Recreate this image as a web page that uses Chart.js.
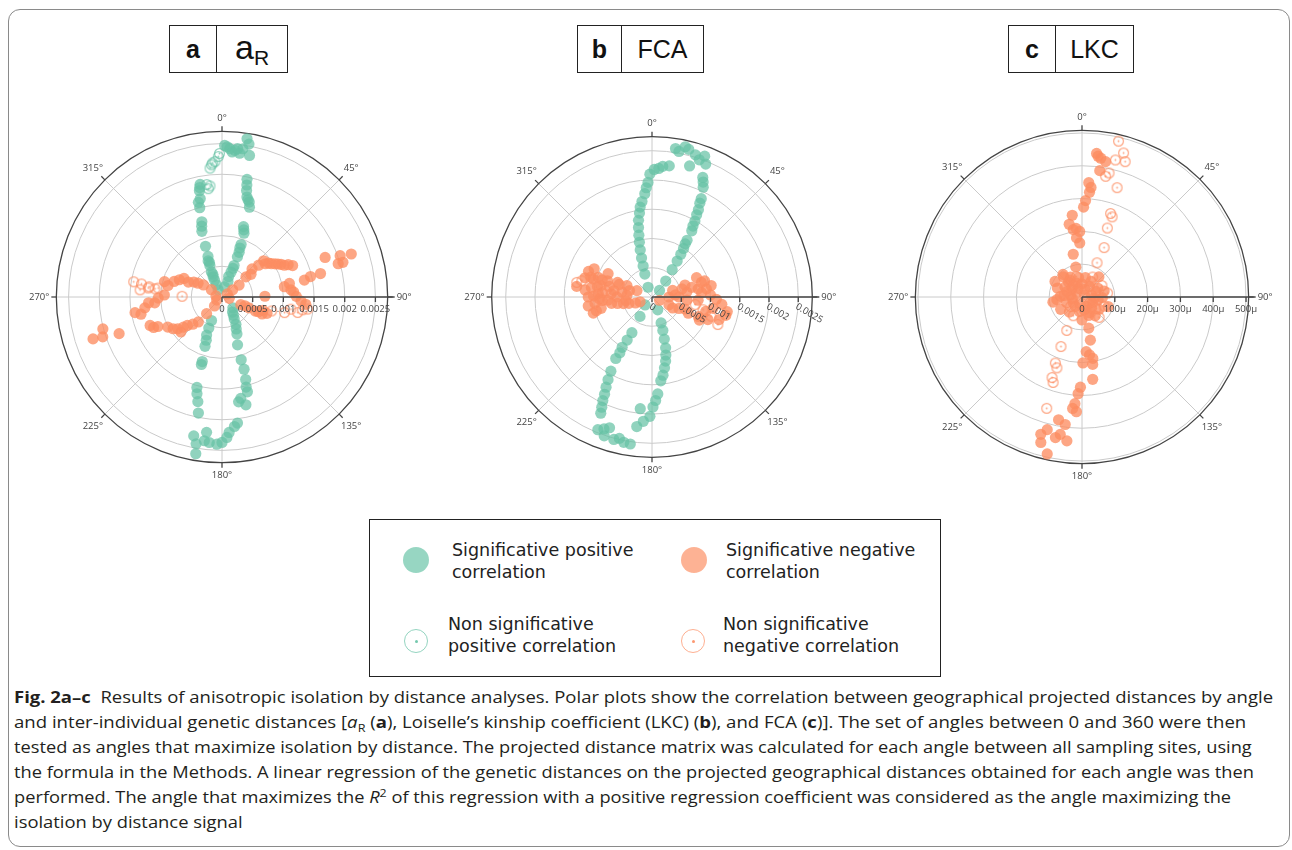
<!DOCTYPE html>
<html>
<head>
<meta charset="utf-8">
<script src="https://cdn.jsdelivr.net/npm/chart.js@4.4.1/dist/chart.umd.min.js"></script>
<style>
body { margin:0; width:1292px; height:850px; background:#fff; position:relative; overflow:hidden; font-family:"DejaVu Sans",sans-serif; }
#frame { position:absolute; left:8px; top:9px; width:1282px; height:838px; border:1px solid #8a8a8a; border-radius:12px; box-sizing:border-box; }
.tbox { position:absolute; top:25px; height:48px; border:1px solid #222; display:flex; box-sizing:border-box; font-family:"Liberation Sans",Arial,sans-serif; color:#111; }
.tbox .k { border-right:1px solid #222; font-weight:bold; font-size:25px; display:flex; align-items:center; justify-content:center; }
.tbox .v { flex:1; font-size:25px; display:flex; align-items:center; justify-content:center; }
canvas.polar { position:absolute; top:77px; }
#legend { position:absolute; left:369px; top:519px; width:572px; height:158px; border:1px solid #222; box-sizing:border-box; }
.mk { position:absolute; border-radius:50%; box-sizing:border-box; }
.lt { position:absolute; font-size:17.5px; line-height:22px; color:#222; white-space:nowrap; }
.cap { position:absolute; left:14px; white-space:nowrap; font-family:"Open Sans",sans-serif; font-size:16.5px; line-height:25px; color:#231f20; transform-origin:0 50%; }
.cap sub, .cap sup { font-size:0.68em; line-height:0; }
</style>
</head>
<body>
<div id="frame"></div>

<div class="tbox" style="left:169px;width:119px"><div class="k" style="width:46px">a</div><div class="v"><span style="font-size:34px;position:relative;top:-2px">a</span><span style="font-size:21px;position:relative;top:9px">R</span></div></div>
<div class="tbox" style="left:577px;width:127px"><div class="k" style="width:43px">b</div><div class="v">FCA</div></div>
<div class="tbox" style="left:1008px;width:126px"><div class="k" style="width:46px">c</div><div class="v">LKC</div></div>

<canvas id="chartA" class="polar" width="440" height="440" style="left:2px"></canvas>
<canvas id="chartB" class="polar" width="440" height="440" style="left:432px"></canvas>
<canvas id="chartC" class="polar" width="440" height="440" style="left:862px"></canvas>

<div id="legend"></div>
<div class="mk" style="left:403px;top:547px;width:26px;height:26px;background:rgba(102,194,165,0.68)"></div>
<div class="lt" style="left:452px;top:539px">Significative positive<br>correlation</div>
<div class="mk" style="left:681px;top:547px;width:26px;height:26px;background:rgba(252,141,98,0.68)"></div>
<div class="lt" style="left:726px;top:539px">Significative negative<br>correlation</div>
<div class="mk" style="left:404px;top:629px;width:24px;height:24px;border:1.5px solid rgba(102,194,165,0.7)"></div>
<div class="mk" style="left:414.5px;top:639.5px;width:3px;height:3px;background:rgba(102,194,165,0.9)"></div>
<div class="lt" style="left:448px;top:613px">Non significative<br>positive correlation</div>
<div class="mk" style="left:681px;top:629px;width:24px;height:24px;border:1.5px solid rgba(252,141,98,0.7)"></div>
<div class="mk" style="left:691.5px;top:639.5px;width:3px;height:3px;background:rgba(252,141,98,0.9)"></div>
<div class="lt" style="left:723px;top:613px">Non significative<br>negative correlation</div>

<div class="cap" data-w="1259" style="top:684px"><b>Fig. 2a–c</b>&nbsp; Results of anisotropic isolation by distance analyses. Polar plots show the correlation between geographical projected distances by angle</div>
<div class="cap" data-w="1232" style="top:709px">and inter-individual genetic distances [<i>a</i><sub>R</sub> (<b>a</b>), Loiselle’s kinship coefficient (LKC) (<b>b</b>), and FCA (<b>c</b>)]. The set of angles between 0 and 360 were then</div>
<div class="cap" data-w="1238" style="top:734px">tested as angles that maximize isolation by distance. The projected distance matrix was calculated for each angle between all sampling sites, using</div>
<div class="cap" data-w="1240" style="top:759px">the formula in the Methods. A linear regression of the genetic distances on the projected geographical distances obtained for each angle was then</div>
<div class="cap" data-w="1217" style="top:784px">performed. The angle that maximizes the <i>R</i><sup>2</sup> of this regression with a positive regression coefficient was considered as the angle maximizing the</div>
<div class="cap" style="top:809px">isolation by distance signal</div>

<script>
// points are [angle in degrees, radius]
const arSigPos = [[9,0.00261],[10,0.00253],[1,0.00247],[3,0.00242],[5,0.0024],[8,0.00244],[11,0.00235],[7,0.00236],[4,0.00237],[2,0.00245],[6,0.00243],
  [12,0.00196],[12.5,0.00187],[13,0.00178],[14,0.00168],[15,0.00164],[16,0.00161],[17,0.00153],[17,0.0012],[18,0.00115],[19,0.0011],[20,0.00091],[20,0.00085],[21,0.00078],[21,0.0007],[21,0.00055],[21,0.0005],[20,0.00043],[21,0.00027],[14,0.00017],[18,0.00035],
  [349,0.00187],[348.5,0.00182],[348,0.00177],[347.5,0.00164],[346,0.00159],[346,0.0015],[345,0.00127],[344,0.0012],[343,0.00112],[342,0.00087],[340,0.0006],[339,0.00063],[339,0.00055],[337,0.00044],[336.5,0.00036],[336,0.0003],[335,0.00022],[331,0.00013],[338,0.0004],[341,0.0007],
  [135,0.00025],[145,0.0003],[151,0.00041],[156,0.00057],[158,0.00065],[162,0.00082],[163,0.00107],[163,0.00123],[164,0.0014],[165,0.00152],[165,0.0016],[169.5,0.00168],[167.5,0.0018],[171,0.00173],[173,0.00207],[174.5,0.00212],[177,0.00221],[178,0.00229],[180,0.00237],[182,0.0024],[185,0.00238],[187,0.00236],[190,0.00243],[191.5,0.00231],[189.5,0.00259],[186.5,0.00222],[148,0.00035],[153,0.0005],
  [204,0.00042],[200,0.00075],[202,0.00067],[199,0.00085],[197,0.0011],[197,0.00115],[195.5,0.00153],[194.5,0.00163],[193,0.00175],[191.5,0.00193],[203,0.00055]];
const arNonPos = [[355.5,0.00216],[357,0.00221],[358.5,0.00229],[359,0.00234],[354.7,0.00211],[352.3,0.00185],[352.8,0.00178],[353.8,0.00182],[356,0.00219]];
const arSigNeg = [[56,0.00021],[55,0.00034],[50,0.00051],[47,0.00067],[49,0.00079],[52.5,0.00089],[56,0.00097],[59.5,0.00106],[63,0.00114],[66,0.00126],[49,0.0009],[54,0.00094],[61,0.0011],[64,0.0012],[52,0.0006],[58,0.00102],
  [78.4,0.00137],[77,0.00148],[76.6,0.00165],[69,0.0018],[70.7,0.00204],[74,0.00197],[71.6,0.00222],[74,0.00205],
  [80.6,0.00103],[84,0.00113],[89.5,0.00121],[78.6,0.00112],[89,0.0007],[93,0.00129],[95,0.00137],[86,0.00117],
  [112,0.00033],[112,0.00047],[113,0.00059],[113,0.00071],[110,0.00078],[108,0.0007],[111,0.0004],[112,0.00064],
  [296,0.00069],[288,0.00082],[285,0.00097],[298,0.00052],[303,0.00036],[304.5,0.00021],[292,0.00075],[282,0.0009],[300,0.0045e-1],[294,0.0006],
  [252,0.00221],[255,0.00201],[251.5,0.00205],[250.4,0.00178],[259.8,0.00144],[262,0.00127],[265.5,0.0012],[269,0.00104],[272,0.00094],[265,0.0011],[258,0.00135],
  [248.4,0.00126],[245.3,0.00115],[241,0.00101],[234.4,0.00089],[230.6,0.00073],[223.5,0.00056],[222.7,0.00037],[220,0.00019],[229.6,0.00088],[246,0.00122],[237,0.00095],[227,0.00065],[232,0.0008],
  [240,0.0001],[60,0.0001],[100,0.00012],[280,0.0001]];
const arNonNeg = [[279.8,0.00146],[279.2,0.00133],[278,0.0012],[277,0.0011],[275,0.00134],[277,0.00121],[271,0.00065],[278,0.00105],[104,0.00105],[101.6,0.00126],[98,0.00141],[105.7,0.00084],[100,0.00114],[99,0.00133]];

const fcaSigPos = [[9,0.00257],[12.5,0.00263],[17,0.00254],[20.5,0.00257],[22,0.00245],[16,0.00233],[10.5,0.00253],[14,0.0026],[19,0.00248],
  [23,0.00222],[24,0.00215],[25,0.00207],[26.6,0.00188],[27,0.0018],[28,0.00169],[29.5,0.00149],[30,0.0014],[31,0.00132],[31.7,0.00114],[33,0.00099],[34,0.00088],[35,0.00075],[36.5,0.00058],[40.7,0.00036],[49,0.00017],[28.5,0.0016],[32,0.00107],
  [338,0.00018],[342.6,0.00041],[345,0.00069],[346,0.00083],[347,0.00096],[348,0.00108],[349,0.00121],[350,0.00133],[351.5,0.00145],[352.5,0.00155],[354,0.00164],[356,0.00177],[357,0.00187],[358,0.00196],[359,0.0021],[1,0.00218],[3,0.0022],[4.7,0.00224],[7.5,0.00226],[344,0.00055],
  [221,0.00018],[211.7,0.00039],[209.4,0.0007],[210,0.00085],[210.7,0.001],[210.5,0.00122],[209,0.00145],[208,0.0016],[207,0.00173],[205.4,0.00196],[204.5,0.00207],[203.8,0.00217],[202.2,0.00245],[200,0.0024],[198,0.00235],[199,0.00251],[195,0.00252],[193,0.00248],[191,0.00253],[188.4,0.00254],[210,0.0011],[206,0.00185],
  [156,0.00024],[160.7,0.00047],[163.7,0.00075],[165,0.0009],[166.6,0.00102],[170,0.00123],[172,0.00135],[174,0.00144],[176.6,0.00166],[178,0.00177],[179.5,0.00188],[181,0.00204],[184,0.00213],[186.7,0.00223],[186,0.00192],[162,0.0006],[168,0.00112]];
const fcaSigNeg = [[292,0.00117],[290,0.00098],[290,0.00081],[293,0.00064],[294.4,0.00047],[293,0.00028],[279,0.00105],[273.4,0.00092],[265.8,0.00076],[259.4,0.0006],[254.5,0.00041],[248,0.00022],[263.6,0.00098],[257.4,0.00089],[270,0.00109],[274.5,0.0007],[279.3,0.00052],[286,0.00119],[282.6,0.00089],[279.7,0.00066],[273.7,0.00043],[254.6,0.00104],[276,0.00115],[268,0.0009],[284,0.00075],[262,0.00045],[296,0.0011],[288,0.0011],
  [287,0.00105],[281,0.00095],[275,0.00085],[271,0.001],[266,0.00085],[261,0.0007],[257,0.0005],[250,0.0003],[289,0.0009],[291,0.0006],[286,0.0004],[298,0.00085],[270,0.0006],[278,0.0013],[262,0.0011],[256,0.00098],
  [113.5,0.00014],[115,0.00032],[113,0.0005],[114,0.00068],[112.8,0.00086],[112,0.00103],[108.6,0.00121],[101,0.00131],[72.4,0.00037],[75,0.00053],[76.3,0.0007],[73.6,0.00088],[81.5,0.00094],[79,0.00103],[66.5,0.00083],[82,0.0006],[90,0.00046],[90,0.00029],[94,0.00079],[100.5,0.00106],[73,0.00094],[85,0.00085],[95,0.0006],[105,0.00095],
  [110,0.0006],[118,0.0004],[92,0.0011],[88,0.001],[80,0.0008],[70,0.0006],[96,0.0012],[104,0.0013],[116,0.0009],[85,0.0004]];
const fcaNonNeg = [[281,0.00131],[283,0.00123],[108,0.00106],[112.7,0.00122],[104,0.0009],[278,0.0008],[100,0.00075]];

// LKC radii in micro units
const lkcSigNeg = [[5.8,440],[7.7,427],[9.9,419],[8,389],[6.5,432],
  [3.4,349],[4.7,335],[4.1,320],[2.1,294],[1,274],[353.2,251],[352.6,207],[358,200],[354.7,181],[357.6,165],[348.4,133],[348.3,93],[355,210],[350,225],
  [317.4,83],[318.2,62],[324,45],[336,29],[290,49],[264,77],[271.7,66],[35.7,39],[68.4,46],[91.8,62],[118.6,37],[155,31],[154.4,53],[125.6,64],[236.3,32],[305,21],[48.8,10],[94.5,38],[324.6,63],[300,60],[280,35],[200,20],[140,45],[80,30],[20,25],[330,70],[250,50],[170,40],
  [10,60],[40,80],[60,55],[100,50],[110,85],[145,70],[160,60],[190,45],[220,60],[240,75],[260,30],[290,80],[310,40],[340,45],[350,60],[0,40],[30,55],[75,70],[125,30],[180,70],[215,35],[275,55],[320,90],[300,95],[260,90],
  [167.7,97],[169,134],[175.6,167],[172.6,178],[179.2,201],[171,208],[172.6,253],[181,275],[182.3,295],[183.8,326],[184.8,341],[182.8,350],[190.8,381],[187.5,392],[194.7,418],[196.7,437],[195.8,461],[189,424],[186,441],[192.5,490],[190.7,436],[170,190]];
const lkcNonNeg = [[13.2,488],[16.1,457],[13.7,430],[17.7,433],[12.3,387],[11.1,375],[17.8,350],[18.9,269],[20.6,261],[20.2,224],[24.1,165],[23.7,114],[28,69],[81.3,79],[112.4,73],[139.9,81],[344.7,64],[205,63],[204.5,112],[203,164],[202,217],[199.5,229],[200.4,262],[198.7,275],[197.6,356],[60,70],[130,55],[230,45]];

const arTicks = [0, 0.0005, 0.001, 0.0015, 0.002, 0.0025];
const arTickLabels = ['0', '0.0005', '0.001', '0.0015', '0.002', '0.0025'];
const fcaTicks = [0, 0.0005, 0.001, 0.0015, 0.002, 0.0025];
const fcaTickLabels = ['0', '0.0005', '0.001', '0.0015', '0.002', '0.0025'];
const lkcTicks = [0, 100, 200, 300, 400, 500];
const lkcTickLabels = ['0', '100µ', '200µ', '300µ', '400µ', '500µ'];
const angleLabels = ['0°', '45°', '90°', '135°', '180°', '225°', '270°', '315°'];

const GREEN = 'rgba(102,194,165,0.72)';
const ORANGE = 'rgba(252,141,98,0.78)';

function toXY(points) {
    return points.map(([deg, r]) => ({
        x: r * Math.sin(deg * Math.PI / 180),
        y: r * Math.cos(deg * Math.PI / 180)
    }));
}

function OpenDotMarker(color) {
    const c = document.createElement('canvas');
    c.width = 13; c.height = 13;
    const g = c.getContext('2d');
    g.strokeStyle = color; g.lineWidth = 1.2;
    g.beginPath(); g.arc(6.5, 6.5, 4.9, 0, 2 * Math.PI); g.stroke();
    g.fillStyle = color;
    g.beginPath(); g.arc(6.5, 6.5, 0.9, 0, 2 * Math.PI); g.fill();
    return c;
}

const polarGrid = {
    id: 'polarGrid',
    beforeDatasetsDraw(chart, args, opts) {
        const { ctx, scales: { x, y } } = chart;
        const cx = x.getPixelForValue(0), cy = y.getPixelForValue(0);
        const R = x.getPixelForValue(opts.rMax) - cx;
        ctx.save();
        ctx.strokeStyle = '#cacaca';
        ctx.lineWidth = 1;
        opts.ticks.forEach(t => {
            if (t <= 0) return;
            ctx.beginPath();
            ctx.arc(cx, cy, x.getPixelForValue(t) - cx, 0, 2 * Math.PI);
            ctx.stroke();
        });
        for (let a = 0; a < 360; a += 45) {
            const rad = a * Math.PI / 180;
            ctx.beginPath();
            ctx.moveTo(cx, cy);
            ctx.lineTo(cx + R * Math.sin(rad), cy - R * Math.cos(rad));
            ctx.stroke();
        }
        ctx.strokeStyle = '#444';
        ctx.lineWidth = 1.3;
        ctx.beginPath(); ctx.arc(cx, cy, R, 0, 2 * Math.PI); ctx.stroke();
        ctx.font = '9.5px "Open Sans"';
        ctx.fillStyle = '#444';
        ctx.textBaseline = 'middle';
        angleLabels.forEach((lab, i) => {
            const rad = i * 45 * Math.PI / 180;
            const s = Math.sin(rad), c = Math.cos(rad);
            ctx.beginPath();
            ctx.moveTo(cx + R * s, cy - R * c);
            ctx.lineTo(cx + (R + 5) * s, cy - (R + 5) * c);
            ctx.stroke();
            if (i === 2) { ctx.textAlign = 'left'; ctx.fillText(lab, cx + R + 9, cy); }
            else if (i === 6) { ctx.textAlign = 'right'; ctx.fillText(lab, cx - R - 7, cy); }
            else {
                const d = (i % 2 === 0) ? R + 13 : R + 17;
                ctx.textAlign = 'center';
                ctx.fillText(lab, cx + d * s, cy - d * c);
            }
        });
        ctx.restore();
    },
    afterDatasetsDraw(chart, args, opts) {
        const { ctx, scales: { x, y } } = chart;
        const cx = x.getPixelForValue(0), cy = y.getPixelForValue(0);
        const R = x.getPixelForValue(opts.rMax) - cx;
        ctx.save();
        ctx.strokeStyle = '#444';
        ctx.lineWidth = 1.3;
        ctx.beginPath(); ctx.moveTo(cx, cy); ctx.lineTo(cx + R + 7, cy); ctx.stroke();
        ctx.font = '9.5px "Open Sans"';
        ctx.fillStyle = '#444';
        opts.ticks.forEach((t, i) => {
            const tx = x.getPixelForValue(t);
            ctx.beginPath(); ctx.moveTo(tx, cy); ctx.lineTo(tx, cy + 5); ctx.stroke();
            if (opts.rotate) {
                ctx.save();
                ctx.translate(tx - 2, cy + 9);
                ctx.rotate(opts.rotate * Math.PI / 180);
                ctx.textAlign = 'left'; ctx.textBaseline = 'middle';
                ctx.fillText(opts.labels[i], 0, 0);
                ctx.restore();
            } else {
                ctx.textAlign = 'center'; ctx.textBaseline = 'top';
                ctx.fillText(opts.labels[i], tx, cy + 8);
            }
        });
        ctx.restore();
    }
};

function LoadPolarChart(canvasId, series, ticks, labels, rMax, outerPx, rotate) {
    const half = rMax * 220 / outerPx;
    const datasets = series.map(s => ({
        data: toXY(s.points),
        backgroundColor: s.open ? 'transparent' : s.color,
        borderWidth: 0,
        pointStyle: s.open ? OpenDotMarker(s.color) : 'circle',
        pointRadius: 5.6,
        pointHoverRadius: 5.6
    }));
    new Chart(document.getElementById(canvasId), {
        type: 'scatter',
        data: { datasets: datasets },
        options: {
            responsive: false,
            animation: false,
            events: [],
            layout: { padding: 0 },
            scales: {
                x: { type: 'linear', display: false, min: -half, max: half },
                y: { type: 'linear', display: false, min: -half, max: half }
            },
            plugins: {
                legend: { display: false },
                tooltip: { enabled: false },
                polarGrid: { ticks: ticks, labels: labels, rMax: rMax, rotate: rotate }
            }
        },
        plugins: [polarGrid]
    });
}

// first series is drawn on top
LoadPolarChart('chartA', [
    { points: arSigNeg, color: ORANGE },
    { points: arNonNeg, color: ORANGE, open: true },
    { points: arSigPos, color: GREEN },
    { points: arNonPos, color: GREEN, open: true }
], arTicks, arTickLabels, 0.0027, 170, 0);

LoadPolarChart('chartB', [
    { points: fcaNonNeg, color: ORANGE, open: true },
    { points: fcaSigNeg, color: ORANGE },
    { points: fcaSigPos, color: GREEN }
], fcaTicks, fcaTickLabels, 0.00274, 164.5, 30);

LoadPolarChart('chartC', [
    { points: lkcSigNeg, color: ORANGE },
    { points: lkcNonNeg, color: ORANGE, open: true }
], lkcTicks, lkcTickLabels, 508, 171, 0);

function FitCaption() {
    const lines = document.querySelectorAll('.cap');
    const scales = [];
    lines.forEach(el => {
        if (!el.dataset.w) return;
        const k = Number(el.dataset.w) / el.scrollWidth;
        scales.push(k);
        el.style.transform = 'scaleX(' + k + ')';
    });
    const mean = scales.reduce((a, b) => a + b, 0) / scales.length;
    lines.forEach(el => { if (!el.dataset.w) el.style.transform = 'scaleX(' + mean + ')'; });
}
FitCaption();
</script>
</body>
</html>
